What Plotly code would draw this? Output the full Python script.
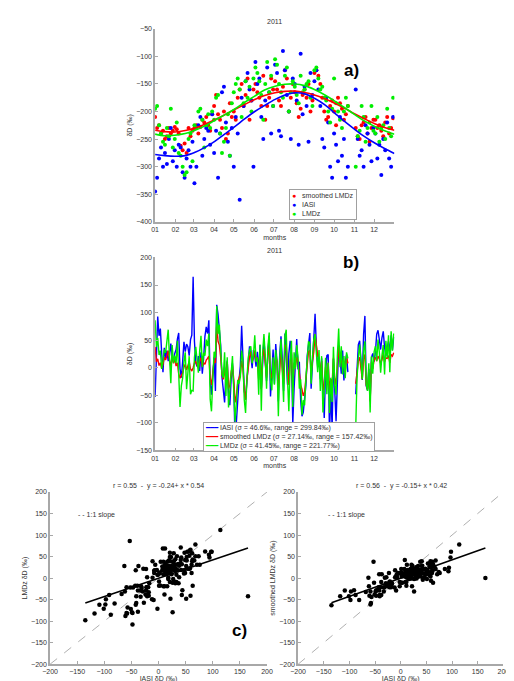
import plotly.graph_objects as go

# ---------------- data ----------------
month_labels = ["01", "02", "03", "04", "05", "06", "07", "08", "09", "10", "11", "12"]
month_start_days = [1, 32, 60, 91, 121, 152, 182, 213, 244, 274, 305, 335]

# panel a : daily values (every 3rd day of 2011)
a_days = list(range(1, 366, 3))
a_smoothed = ([-210, -230, -225, -240, -235, -250, -245, -230, -240, -235, -228]
              + [-232, -240, -262, -270, -258, -275, -230, -245, -235]
              + [-230, -225, -240, -228, -215, -220, -210, -225, -235, -205]
              + [-190, -170, -205, -215, -230, -200, -250, -240, -185, -210]
              + [-200, -215, -175, -160, -150, -190, -170, -140, -215, -180, -160]
              + [-150, -165, -175, -190, -135, -215, -190, -175, -140, -160]
              + [-145, -160, -180, -190, -155, -125, -140, -200, -175, -150]
              + [-165, -185, -210, -195, -170, -160, -175, -150, -200, -180]
              + [-130, -125, -135, -150, -175, -200, -215, -210, -190, -180]
              + [-200, -225, -175, -185, -195, -215, -205, -190, None, None, None]
              + [-230, -245, -250, -225, -220, -210, -240, -255, -230, -215]
              + [-215, -230, -225, -235, -245, -220, -210, -240, -230, -212])
a_iasi = ([-345, -320, -285, -265, -300, -275, -295, -250, -230, -290, -270]
          + [-300, -260, -265, -310, -320, -285, -270, -300, -255]
          + [-330, -300, -225, -210, -280, -250, -230, -235, -260, -205]
          + [-275, -235, -320, -240, -165, -155, -220, -255, -280, -230]
          + [-300, -210, -240, -360, -175, -190, -145, -130, -160, -180, -300]
          + [-110, -150, -140, -210, -250, -180, -120, -165, -240, -190]
          + [-115, -130, -235, -245, -90, -125, -170, -200, -250, -140]
          + [-150, -180, -260, -95, -205, -155, -190, -255, -130, -170]
          + [-145, -125, -160, -190, -250, -265, -175, -220, -300, -320]
          + [-240, -260, -290, -210, -280, -250, -320, -300, None, None, None]
          + [-160, -250, -280, -270, -300, -225, -240, -260, -290, -230]
          + [-240, -285, -260, -315, -250, -270, -220, -285, -300, -210])
a_lmdz = ([-195, -190, -225, -240, -255, -260, -230, -245, -195, -265, -250]
          + [-220, -275, -280, -300, -315, -310, -250, -240, -290]
          + [-225, -230, -200, -195, -215, -265, -225, -205, -230, -200]
          + [-215, -175, -170, -240, -275, -255, -230, -205, -280, -185]
          + [-165, -150, -140, -160, -210, -185, -145, -175, -155, -200, -140]
          + [-120, -130, -145, -170, -215, -150, -110, -165, -135, -190]
          + [-105, -115, -150, -165, -175, -135, -120, -200, -165, -145]
          + [-155, -170, -185, -135, -165, -160, -150, -145, -175, -190]
          + [-125, -120, -140, -160, -155, -175, -180, -200, -220, -195]
          + [-140, -185, -200, -215, -230, -200, -175, -190, None, None, None]
          + [-300, -245, -235, -190, -210, -255, -230, -220, -190, -235]
          + [-240, -210, -255, -230, -225, -250, -195, -230, -245, -175])

# seasonal fits (read every half month)
fit_days = [1, 16, 31, 47, 62, 77, 92, 107, 123, 138, 153, 168, 184, 199, 214,
            229, 244, 260, 275, 290, 305, 320, 336, 351, 366]
fit_smoothed = [-234, -236.5, -237, -234.5, -230, -223, -215, -206, -196, -187, -178, -171, -166,
                -163.5, -163, -165.5, -170, -177, -185, -194, -204, -213, -222, -229, -234]
fit_lmdz = [-241, -244, -243, -240, -234, -226, -216, -206, -195, -183, -172, -161, -154,
            -150.5, -150, -153, -160, -170, -181, -193, -205, -217, -227, -235, -241]
fit_iasi = [-278, -280, -281, -280, -274, -265, -254, -241, -227, -213, -200, -189, -178,
            -170, -166, -168, -176, -188, -203, -218, -232, -245, -257, -267, -276]

# panel b : anomalies (every 2nd day of 2011)
b_days = list(range(1, 366, 2))
b_iasi = ([-53, 4, 93, 58, 71, 27, -8, 36, 18, 31, 12, 23, 44, 19, 14]
          + [26, 33, 52, 63, -2, -18, 11, 47, 29, 43, 38, 22, 51, 59, 165, 48]
          + [9, 2, 21, -6, 28, -11, 17, 57, 74, 62, 86, -27, -49, -22, 19]
          + [-42, 114, 97, 68, 41, -17, -39, -63, -9, 13, -51, -68, -21, 8, -33]
          + [-135, -98, -47, -23, 3, 76, 18, -41, -58, -19, 11, 39, 22, -1, 32, 21]
          + [2, 29, -12, 41, -38, 7, 53, 12, -24, 27, 58, -52, -18, 33, -29]
          + [43, 9, -61, 22, 57, 16, -42, 62, 8, -31, 26, 49, 23, -101, -37]
          + [18, 52, -3, 11, -59, -88, -81, -57, -32, 21, 42, 63, -38, 7, 34]
          + [98, 38, 1, 13, -21, 17, -48, -91, -7, 22, 24, -118, -43, -109, 16]
          + [-62, -97, -28, 41, 18, -11, 31, -23, 9, 24, -8]
          + [None, None, None, None, None]
          + [-48, 1, 42, 49, 13, -22, 61, 94, -33, -41, -2, -59, 19, 26, 11]
          + [28, 61, 68, 51, 33, 54, 66, 37, 21, 36, 48, 29, 59, 32, 56])
b_smoothed = ([38, 11, 16, 4, 9, -1, 6, 19, 14, 26, 31, 13, 2, 21, 8]
              + [16, 3, 9, -11, -19, -14, -9, 1, 6, -4, 4, 11, -2, -6, 0, 9]
              + [11, 4, -1, 12, 18, 2, 9, 6, 14, 17, 21, -19, -31, -9, 13]
              + [9, 78, 48, 41, 19, -12, -21, 1, -29, 11, -38, -32, -8, 4, -22]
              + [-63, -51, -28, -19, -11, 12, -1, -42, -58, -21, 2, 19, 29, 11, 18, 31]
              + [12, 19, -22, 28, -39, 21, 34, 9, -18, 22, 39, -11, -19, 8, -12]
              + [21, 12, -41, 9, 31, -2, -29, 38, 42, 1, -31, 11, 28, -42, 9]
              + [1, 19, 12, -18, -31, -39, -51, -44, -21, 2, 29, 32, -9, 11, 28]
              + [61, 38, 21, 19, -11, 12, -41, -28, 1, -19, 9, -42, -21, -29, 18]
              + [-19, -31, 2, 39, 11, 18, -1, 12, -9, 21, 8]
              + [None, None, None, None, None]
              + [-29, -11, 12, 19, 1, -21, 16, 24, -31, -39, -9, -61, 11, -2, 14]
              + [19, 12, 21, 16, 8, 14, 26, 11, 18, 17, 22, 9, 24, 21, 27])
b_lmdz = ([86, 38, 54, 23, 31, -2, 12, 33, 27, 44, 69, 18, -28, 41, 9]
          + [22, 8, 49, -18, -71, -33, -19, 11, 28, -39, 2, 21, -48, -41, -42, 19]
          + [38, 13, -9, 31, 58, 1, 27, 22, 51, 39, 62, -57, -79, -21, 29]
          + [18, 112, 61, 78, 33, -12, -18, 28, -51, 19, -72, -37, 2, 21, -43]
          + [-98, -61, -22, -29, -17, 31, 12, -58, -82, -21, 18, 32, 39, 8, 22, 59]
          + [11, 18, -49, 42, -78, 27, 61, 23, -38, 37, 64, -22, -41, 19, -31]
          + [32, 9, -88, 13, 52, -19, -62, 58, 69, -23, -79, 12, 49, -71, 28]
          + [-2, 41, 19, -38, -21, -85, -59, -68, -19, 11, 48, 43, -29, 18, 51]
          + [61, 29, -8, 32, -42, 21, -81, -39, 18, -48, 9, -82, -18, -62, 38]
          + [-31, -49, 22, 71, 1, 39, -12, 21, -19, 28, 17]
          + [None, None, None, None, None]
          + [-108, -18, 19, 42, 12, -21, 31, 48, -29, -42, 8, -81, 21, -11, 29]
          + [39, 12, 51, 28, -9, 22, 41, -12, 49, 18, 59, -8, 66, 31, 62])

# panel c : regression lines and 1:1 line
reg_x = [-135, 165]
reg_lmdz = [-58, 70]
reg_smoothed = [-57, 70]
one_to_one = [-200, 200]

# ---------------- figure ----------------
W, H = 514, 681
def PX(x):
    return x / W
def PY(y):
    return 1 - y / H

RED, BLUE, GREEN = "#ff0000", "#0000ff", "#00ee00"
FONT = "Liberation Sans, Arial, sans-serif"
fig = go.Figure()

# panel a
fig.add_trace(go.Scatter(x=a_days, y=a_smoothed, mode="markers", marker=dict(color=RED, size=4),
                         xaxis="x", yaxis="y"))
fig.add_trace(go.Scatter(x=a_days, y=a_iasi, mode="markers", marker=dict(color=BLUE, size=4),
                         xaxis="x", yaxis="y"))
fig.add_trace(go.Scatter(x=a_days, y=a_lmdz, mode="markers", marker=dict(color=GREEN, size=4),
                         xaxis="x", yaxis="y"))
for fy, col in [(fit_smoothed, RED), (fit_lmdz, GREEN), (fit_iasi, BLUE)]:
    fig.add_trace(go.Scatter(x=fit_days, y=fy, mode="lines", line=dict(color=col, width=1.6, shape="spline"),
                             xaxis="x", yaxis="y"))

# panel b
for by, col in [(b_iasi, BLUE), (b_smoothed, RED), (b_lmdz, GREEN)]:
    fig.add_trace(go.Scatter(x=b_days, y=by, mode="lines", line=dict(color=col, width=1.4),
                             connectgaps=False, xaxis="x2", yaxis="y2"))

# panel c (pairs of the panel b anomalies)
c_x1 = [i for i, l in zip(b_iasi, b_lmdz) if i is not None and l is not None]
c_y1 = [l for i, l in zip(b_iasi, b_lmdz) if i is not None and l is not None]
c_x2 = [i for i, s in zip(b_iasi, b_smoothed) if i is not None and s is not None]
c_y2 = [s for i, s in zip(b_iasi, b_smoothed) if i is not None and s is not None]

for xa, ya, ax_x, ax_y, reg in [("x3", "y3", c_x1, c_y1, reg_lmdz), ("x4", "y4", c_x2, c_y2, reg_smoothed)]:
    fig.add_trace(go.Scatter(x=one_to_one, y=one_to_one, mode="lines",
                             line=dict(color="#9a9a9a", width=0.8, dash="dash"), xaxis=xa, yaxis=ya))
    fig.add_trace(go.Scatter(x=ax_x, y=ax_y, mode="markers", marker=dict(color="black", size=4.5),
                             xaxis=xa, yaxis=ya))
    fig.add_trace(go.Scatter(x=reg_x, y=reg, mode="lines", line=dict(color="black", width=1.6),
                             xaxis=xa, yaxis=ya))

axis_style = dict(showline=True, linecolor="#a8a8a8", linewidth=1.5, ticks="inside", ticklen=3,
                  tickwidth=1, tickcolor="#a8a8a8", showgrid=False, zeroline=False,
                  tickfont=dict(size=7, color="#333333", family=FONT),
                  title_font=dict(size=7, color="#333333", family=FONT), fixedrange=True)

fig.update_layout(
    width=W, height=H, margin=dict(l=0, r=0, t=0, b=0),
    paper_bgcolor="white", plot_bgcolor="white", showlegend=False,
    font=dict(family=FONT, size=7, color="#333333"),
    xaxis=dict(domain=[PX(143), PX(389)], range=[1, 366], tickvals=month_start_days, ticktext=month_labels,
               anchor="y", title=dict(text="months", standoff=3), **axis_style),
    yaxis=dict(domain=[PY(212), PY(17)], range=[-400, -50], dtick=50, anchor="x",
               title=dict(text="δD (‰)", standoff=3), **axis_style),
    xaxis2=dict(domain=[PX(143), PX(389)], range=[1, 366], tickvals=month_start_days, ticktext=month_labels,
                anchor="y2", title=dict(text="months", standoff=3), **axis_style),
    yaxis2=dict(domain=[PY(443), PY(248)], range=[-150, 200], dtick=50, anchor="x2",
                title=dict(text="δD (‰)", standoff=3), **axis_style),
    xaxis3=dict(domain=[PX(35), PX(258)], range=[-200, 200], dtick=50, anchor="y3",
                title=dict(text="IASI δD (‰)", standoff=1), **axis_style),
    yaxis3=dict(domain=[PY(659), PY(485)], range=[-200, 200], dtick=50, anchor="x3",
                title=dict(text="LMDz δD (‰)", standoff=3), **axis_style),
    xaxis4=dict(domain=[PX(290), PX(501)], range=[-200, 200], dtick=50, anchor="y4",
                title=dict(text="IASI δD (‰)", standoff=1), **axis_style),
    yaxis4=dict(domain=[PY(659), PY(485)], range=[-200, 200], dtick=50, anchor="x4",
                title=dict(text="smoothed LMDz δD (‰)", standoff=3), **axis_style),
)

def note(text, x, y, size=7, xanchor="center", yanchor="middle", **kw):
    fig.add_annotation(text=text, x=PX(x), y=PY(y), xref="paper", yref="paper", showarrow=False,
                       xanchor=xanchor, yanchor=yanchor, font=dict(size=size, color="#333333", family=FONT), **kw)

note("2011", 266, 10)
note("2011", 266, 241)
note("r = 0.55  -  y = -0.24+ x * 0.54", 147, 479)
note("r = 0.56  -  y = -0.15+ x * 0.42", 396, 479)
note("- - 1:1 slope", 62, 508, xanchor="left")
note("- - 1:1 slope", 319, 508, xanchor="left")
for lab, lx, ly in [("a)", 355, 47), ("b)", 355, 253), ("c)", 230, 637)]:
    fig.add_annotation(text="<b>" + lab + "</b>", x=PX(lx), y=PY(ly), xref="paper", yref="paper",
                       showarrow=False, font=dict(size=17, color="black", family=FONT))

legend_a = ("<span style='color:#ff0000'>●</span>   smoothed LMDz<br>"
            "<span style='color:#0000ff'>●</span>   IASI<br>"
            "<span style='color:#00ee00'>●</span>   LMDz")
note(legend_a, 281, 179, xanchor="left", yanchor="top", align="left", bgcolor="white",
     bordercolor="#a0a0a0", borderwidth=1, borderpad=2)

legend_b = ("<span style='color:#0000ff'>━━━</span> IASI (σ = 46.6‰, range = 299.84‰)<br>"
            "<span style='color:#ff0000'>━━━</span> smoothed LMDz (σ = 27.14‰, range = 157.42‰)<br>"
            "<span style='color:#00ee00'>━━━</span> LMDz (σ = 41.45‰, range = 221.77‰)")
note(legend_b, 192, 414, xanchor="left", yanchor="top", align="left", bgcolor="white",
     bordercolor="#a0a0a0", borderwidth=1, borderpad=1)

fig.write_html("out.html")
